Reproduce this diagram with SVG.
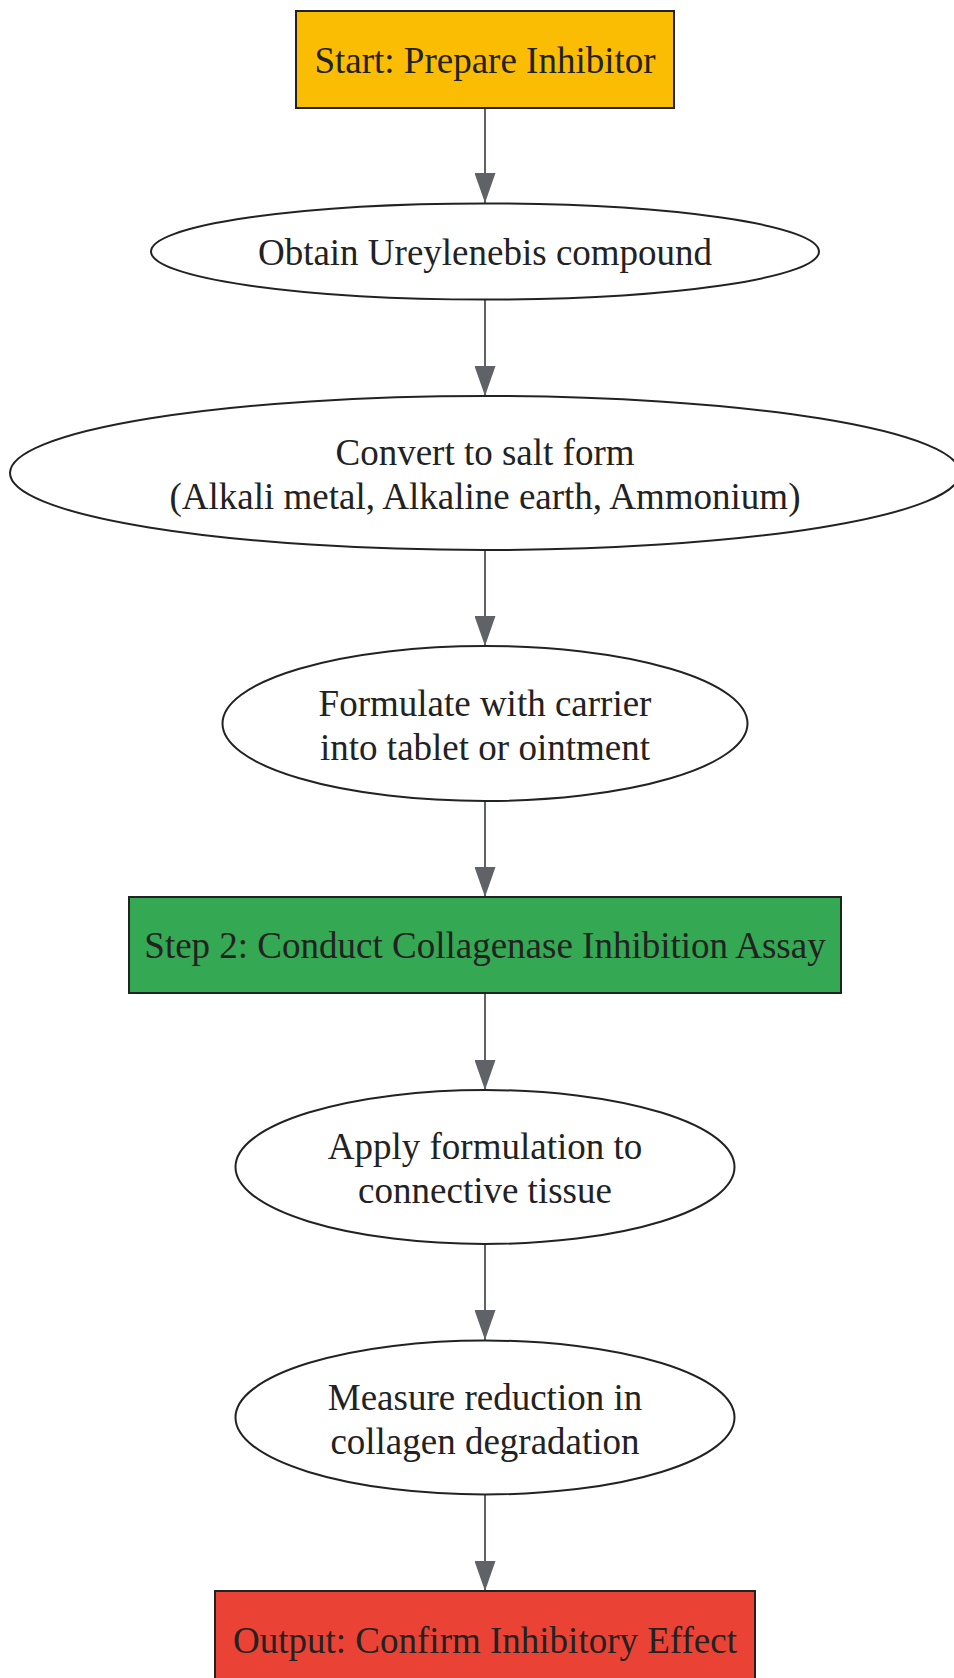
<svg xmlns="http://www.w3.org/2000/svg" width="954" height="1678" viewBox="0 0 954 1678">
<style>
.node{stroke:#222222;stroke-width:2}
.plain{fill:#ffffff}
.lbl{font-family:"Liberation Serif","Times New Roman",serif;font-size:37px;fill:#222222;text-anchor:middle}
.edge{stroke:#5f6368;stroke-width:2;fill:none}
</style>
<defs>
<marker id="arr" viewBox="0 0 30 21" refX="30" refY="10.5" markerWidth="30" markerHeight="21" markerUnits="userSpaceOnUse" orient="auto">
<path d="M0,0 L30,10.5 L0,21 z" fill="#5f6368"/>
</marker>
</defs>
<rect width="954" height="1678" fill="#ffffff"/>
<g id="connectors">
<line class="edge" x1="485" y1="108" x2="485" y2="203" marker-end="url(#arr)"/>
<line class="edge" x1="485" y1="300" x2="485" y2="396" marker-end="url(#arr)"/>
<line class="edge" x1="485" y1="550" x2="485" y2="646" marker-end="url(#arr)"/>
<line class="edge" x1="485" y1="801" x2="485" y2="897" marker-end="url(#arr)"/>
<line class="edge" x1="485" y1="993" x2="485" y2="1090" marker-end="url(#arr)"/>
<line class="edge" x1="485" y1="1244" x2="485" y2="1340" marker-end="url(#arr)"/>
<line class="edge" x1="485" y1="1495" x2="485" y2="1591" marker-end="url(#arr)"/>
</g>
<g id="start">
<rect class="node" x="296" y="11" width="378" height="97" fill="#fbbc04"/>
<text class="lbl" x="485" y="72.5">Start: Prepare Inhibitor</text>
</g>
<g id="obtain">
<ellipse class="node plain" cx="485" cy="251.5" rx="334" ry="48"/>
<text class="lbl" x="485" y="264.5">Obtain Ureylenebis compound</text>
</g>
<g id="convert">
<ellipse class="node plain" cx="485" cy="473" rx="475" ry="77"/>
<text class="lbl" x="485" y="465">Convert to salt form</text>
<text class="lbl" x="485" y="509">(Alkali metal, Alkaline earth, Ammonium)</text>
</g>
<g id="formulate">
<ellipse class="node plain" cx="485" cy="723.5" rx="262.5" ry="77.5"/>
<text class="lbl" x="485" y="715.5">Formulate with carrier</text>
<text class="lbl" x="485" y="759.5">into tablet or ointment</text>
</g>
<g id="step2">
<rect class="node" x="129" y="897" width="712" height="96" fill="#34a853"/>
<text class="lbl" x="485" y="958">Step 2: Conduct Collagenase Inhibition Assay</text>
</g>
<g id="apply">
<ellipse class="node plain" cx="485" cy="1167" rx="249.5" ry="77"/>
<text class="lbl" x="485" y="1159">Apply formulation to</text>
<text class="lbl" x="485" y="1203">connective tissue</text>
</g>
<g id="measure">
<ellipse class="node plain" cx="485" cy="1417.5" rx="249.5" ry="77"/>
<text class="lbl" x="485" y="1409.5">Measure reduction in</text>
<text class="lbl" x="485" y="1453.5">collagen degradation</text>
</g>
<g id="output">
<rect class="node" x="215" y="1591" width="540" height="97" fill="#ea4335"/>
<text class="lbl" x="485" y="1652.5">Output: Confirm Inhibitory Effect</text>
</g>
</svg>
